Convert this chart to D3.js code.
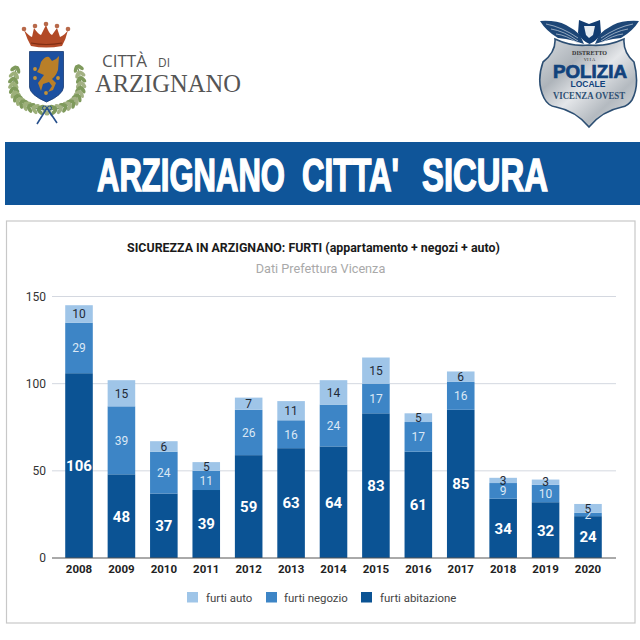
<!DOCTYPE html>
<html>
<head>
<meta charset="utf-8">
<script src="https://cdn.jsdelivr.net/npm/d3@7"></script>
<style>
  html, body { margin: 0; padding: 0; background: #fff; }
  svg { display: block; }
  text { font-family: Roboto, sans-serif; }
</style>
</head>
<body>
<div id="chart"></div>
<script>
const years = ["2008","2009","2010","2011","2012","2013","2014","2015","2016","2017","2018","2019","2020"];
const furtiAbitazione = [106,48,37,39,59,63,64,83,61,85,34,32,24];
const furtiNegozio = [29,39,24,11,26,16,24,17,17,16,9,10,2];
const furtiAuto = [10,15,6,5,7,11,14,15,5,6,3,3,5];
const yTicks = [0,50,100,150];
const seriesNames = ["furti abitazione","furti negozio","furti auto"];
const seriesColors = ["#0b5394","#3d85c6","#9fc5e8"];
const labelColors = ["#ffffff","#dbe8f5","#1f2a36"];
const bannerWords = ["ARZIGNANO","CITTA'","SICURA"];

const svg = d3.select("#chart").append("svg")
    .attr("width", 640)
    .attr("height", 640)
    .attr("viewBox", [0, 0, 640, 640]);

const defs = svg.append("defs");
const silver = defs.append("linearGradient").attr("id", "silver")
    .attr("x1", 0).attr("y1", 0).attr("x2", 1).attr("y2", 1);
[[0,"#d9dde1"],[0.3,"#aeb4ba"],[0.5,"#e4e6e9"],[0.72,"#b4bac0"],[1,"#dfe2e5"]].forEach(s => {
    silver.append("stop").attr("offset", s[0]).attr("stop-color", s[1]);
});

// header band, one text per word so the gaps match
const bannerX = [97, 302, 422];
const bannerW = [188, 97, 126];
svg.append("rect").attr("x", 5).attr("y", 142).attr("width", 635).attr("height", 63).attr("fill", "#0f5599");
svg.append("g").selectAll("text").data(bannerWords).join("text")
    .attr("x", (d, i) => bannerX[i]).attr("y", 190.5)
    .attr("textLength", (d, i) => bannerW[i])
    .attr("lengthAdjust", "spacingAndGlyphs")
    .style("font-family", "'Liberation Sans Narrow', 'Liberation Sans', sans-serif")
    .style("font-weight", 700)
    .style("font-size", "47px")
    .attr("fill", "#fff").attr("stroke", "#fff").attr("stroke-width", 1.6)
    .text(d => d);

// left logo: coat of arms
const crest = svg.append("g");
const leafPos = (p0, c, p1, t) => {
    const u = 1 - t;
    return {
        x: u * u * p0[0] + 2 * u * t * c[0] + t * t * p1[0],
        y: u * u * p0[1] + 2 * u * t * c[1] + t * t * p1[1],
        a: Math.atan2(2 * u * (c[1] - p0[1]) + 2 * t * (p1[1] - c[1]), 2 * u * (c[0] - p0[0]) + 2 * t * (p1[0] - c[0])) * 180 / Math.PI
    };
};
[[[17,66],[3,106],[45,110],"#9db07a"],[[77,65],[92,106],[49,110],"#a3b184"]].forEach(w => {
    crest.append("path")
        .attr("d", `M${w[0]}Q${w[1]} ${w[2]}`)
        .attr("fill", "none").attr("stroke", "#6f8a55").attr("stroke-width", 1);
    d3.range(0, 1, 0.075).forEach((t, i) => {
        const p = leafPos(w[0], w[1], w[2], t);
        [-35, 35].forEach(off => {
            crest.append("ellipse")
                .attr("rx", 4).attr("ry", 1.9)
                .attr("fill", i % 2 ? w[3] : "#7f9a5c")
                .attr("transform", `translate(${p.x},${p.y}) rotate(${p.a + off}) translate(4,0)`);
        });
    });
});
crest.append("path")
    .attr("d", "M24,30 Q29,36 32,37 L34,28 Q38,34 41,35 L46,25 Q49,34 52,35 L57,28 L60,37 Q65,35 68,30 Q66,39 62,46 Q46,49 31,46 Q27,39 24,30 Z")
    .attr("fill", "#b24a27");
crest.append("path").attr("d", "M31,43 Q46,46 62,43").attr("fill", "none").attr("stroke", "#7e2e14").attr("stroke-width", 1.2);
crest.selectAll("circle.ball").data([[24,29],[35,26],[46,24],[57,26],[68,29]]).join("circle")
    .attr("cx", d => d[0]).attr("cy", d => d[1]).attr("r", 2.3).attr("fill", "#b8694a");
crest.append("path")
    .attr("d", "M29.5,51.5 H63.5 V87 Q63,95 46.5,102 Q30,95 29.5,87 Z")
    .attr("fill", "#1c50a0").attr("stroke", "#173a72").attr("stroke-width", 0.8);
crest.append("path")
    .attr("d", "M41,62 Q45,56 49,57 L52,61 Q56,60 59,56 L58,70 Q56,76 52,79 L56,83 L53,90 L48,92 L52,86 L49,82 L43,84 L41,91 L38,83 L44,75 L37,72 Q40,68 41,62 Z")
    .attr("fill", "#b97f28");
crest.selectAll("circle.star").data([[35,69],[35,78],[58,78],[46,93]]).join("circle")
    .attr("cx", d => d[0]).attr("cy", d => d[1]).attr("r", 1.9).attr("fill", "#c59236");
crest.append("path").attr("d", "M37,124 L47,108 L57,123 M47,108 L42,116 M47,108 L52,116")
    .attr("fill", "none").attr("stroke", "#27508c").attr("stroke-width", 1.6);
crest.append("circle").attr("cx", 44.5).attr("cy", 108).attr("r", 2).attr("fill", "none").attr("stroke", "#27508c").attr("stroke-width", 1);
crest.append("circle").attr("cx", 49.5).attr("cy", 108).attr("r", 2).attr("fill", "none").attr("stroke", "#27508c").attr("stroke-width", 1);

svg.append("text").attr("x", 102).attr("y", 67)
    .attr("textLength", 45).attr("lengthAdjust", "spacingAndGlyphs")
    .style("font-family", "'Open Sans', sans-serif").style("font-size", "15.5px").attr("fill", "#555")
    .text("CITTÀ");
svg.append("text").attr("x", 158).attr("y", 67)
    .attr("textLength", 12).attr("lengthAdjust", "spacingAndGlyphs")
    .style("font-family", "'Open Sans', sans-serif").style("font-size", "13.5px").attr("fill", "#555")
    .text("DI");
svg.append("text").attr("x", 95).attr("y", 92)
    .style("font-family", "'Liberation Serif', serif").style("font-size", "25px").attr("fill", "#555")
    .attr("textLength", 146).attr("lengthAdjust", "spacingAndGlyphs")
    .text("ARZIGNANO");

// right logo: police badge
const badge = svg.append("g");
const wing = "M540,21 Q556,20 566,25 Q574,29 580,35 L584,44 Q572,40 566,39 L558,38 Q546,31 540,21 Z";
badge.append("path").attr("d", wing).attr("fill", "#1d4676");
badge.append("path").attr("d", wing).attr("fill", "#1d4676").attr("transform", "translate(1179,0) scale(-1,1)");
["M546,24 Q562,27 578,38", "M551,29 Q564,31 578,41", "M556,34 Q566,35 578,43"].forEach(d => {
    badge.append("path").attr("d", d).attr("fill", "none").attr("stroke", "#c9d3de").attr("stroke-width", 0.7);
    badge.append("path").attr("d", d).attr("fill", "none").attr("stroke", "#c9d3de").attr("stroke-width", 0.7)
        .attr("transform", "translate(1179,0) scale(-1,1)");
});
badge.append("path")
    .attr("d", "M555,39 Q572,47 589,45 Q606,47 624,39 Q623,52 634,62 Q640,85 632,100 Q628,106 622,107 Q602,111 589,127 Q576,111 556,107 Q548,106 544,98 Q536,82 543,62 Q556,52 555,39 Z")
    .attr("fill", "url(#silver)").attr("stroke", "#2d4f73").attr("stroke-width", 1.6);
badge.append("path").attr("d", "M579,20 L589,24 L600,20 L601,33 Q597,41 589.5,44 Q582,41 578,33 Z").attr("fill", "#123c70");
badge.append("path").attr("d", "M584,26 L595,26 L593,35 L589,38 L586,35 Z").attr("fill", "#e8edf2");
badge.append("text").attr("x", 589.5).attr("y", 54.5).attr("text-anchor", "middle")
    .style("font-family", "'Liberation Serif', serif").style("font-weight", 700).style("font-size", "6px").attr("fill", "#333").text("DISTRETTO");
badge.append("text").attr("x", 589.5).attr("y", 60.5).attr("text-anchor", "middle")
    .style("font-family", "'Liberation Serif', serif").style("font-size", "4.5px").attr("fill", "#333").text("VI I A");
badge.append("text").attr("x", 553).attr("y", 77.5)
    .attr("textLength", 74).attr("lengthAdjust", "spacingAndGlyphs")
    .style("font-family", "'Liberation Sans', sans-serif").style("font-weight", 700).style("font-size", "17.5px")
    .attr("fill", "#12427c").attr("stroke", "#12427c").attr("stroke-width", 0.7).text("POLIZIA");
badge.append("text").attr("x", 588).attr("y", 87).attr("text-anchor", "middle")
    .style("font-family", "'Liberation Sans', sans-serif").style("font-weight", 700).style("font-size", "8.5px").attr("fill", "#12427c").text("LOCALE");
badge.append("text").attr("x", 553).attr("y", 99)
    .attr("textLength", 72).attr("lengthAdjust", "spacingAndGlyphs")
    .style("font-family", "'Liberation Serif', serif").style("font-weight", 700).style("font-size", "9.5px").attr("fill", "#2d4f73").text("VICENZA OVEST");

// chart panel
svg.append("rect").attr("x", 6.5).attr("y", 221).attr("width", 628.5).attr("height", 402)
    .attr("fill", "#fff").attr("stroke", "#c8c8c8").attr("stroke-width", 1.2);
svg.append("text").attr("x", 313.5).attr("y", 251.5).attr("text-anchor", "middle")
    .style("font-size", "12.4px").style("font-weight", 700).attr("fill", "#1a1a1a")
    .text("SICUREZZA IN ARZIGNANO: FURTI (appartamento + negozi + auto)");
svg.append("text").attr("x", 320.5).attr("y", 273).attr("text-anchor", "middle")
    .style("font-size", "12.7px").attr("fill", "#a9a9a9")
    .text("Dati Prefettura Vicenza");

const x = d3.scaleBand().domain(years).range([57.8, 609.2]).paddingInner(0.35).paddingOuter(0.175);
const y = d3.scaleLinear().domain([0, 150]).range([558, 296.5]);

svg.append("g").selectAll("line").data(yTicks.filter(d => d > 0)).join("line")
    .attr("x1", 52).attr("x2", 616)
    .attr("y1", d => y(d)).attr("y2", d => y(d))
    .attr("stroke", "#d4d8e0").attr("stroke-width", 1);

const table = years.map((year, i) => ({
    year,
    abitazione: furtiAbitazione[i],
    negozio: furtiNegozio[i],
    auto: furtiAuto[i]
}));
const stacked = d3.stack().keys(["abitazione", "negozio", "auto"])(table);

svg.append("g").selectAll("g").data(stacked).join("g")
    .attr("fill", (d, i) => seriesColors[i])
    .selectAll("rect").data(d => d).join("rect")
    .attr("x", d => x(d.data.year))
    .attr("width", x.bandwidth())
    .attr("y", d => y(d[1]))
    .attr("height", d => y(d[0]) - y(d[1]));

// value labels, bottom segment is larger and bold
stacked.forEach((layer, i) => {
    svg.append("g").selectAll("text").data(layer).join("text")
        .attr("x", d => x(d.data.year) + x.bandwidth() / 2)
        .attr("y", d => (y(d[0]) + y(d[1])) / 2)
        .attr("dy", "0.36em")
        .attr("text-anchor", "middle")
        .attr("fill", labelColors[i])
        .style("font-size", i === 0 ? "15px" : "12px")
        .style("font-weight", i === 0 ? 700 : 400)
        .text(d => d[1] - d[0]);
});

// axes
const xAxis = svg.append("g").attr("transform", "translate(0,558)")
    .call(d3.axisBottom(x).tickSize(0).tickPadding(7));
xAxis.select(".domain").remove();
xAxis.selectAll("text").style("font-family", "Roboto, sans-serif").style("font-size", "11.5px").style("font-weight", 700).attr("fill", "#222");
svg.append("line").attr("x1", 52).attr("x2", 616).attr("y1", 558).attr("y2", 558).attr("stroke", "#555").attr("stroke-width", 1);

const yAxis = svg.append("g").attr("transform", "translate(46,0)")
    .call(d3.axisLeft(y).tickValues(yTicks).tickSize(0).tickPadding(0));
yAxis.select(".domain").remove();
yAxis.selectAll("text").style("font-family", "Roboto, sans-serif").style("font-size", "12px").attr("fill", "#333");

// legend
const legendOrder = [2, 1, 0];
const legendX = [187, 266, 361];
const legendGap = [19, 18, 19];
const legend = svg.append("g").selectAll("g").data(legendOrder).join("g")
    .attr("transform", (d, i) => `translate(${legendX[i]},592)`);
legend.append("rect").attr("width", 11).attr("height", 10.5).attr("fill", d => seriesColors[d]);
legend.append("text").attr("x", (d, i) => legendGap[i]).attr("y", 10)
    .style("font-size", "11.4px").attr("fill", "#444")
    .text(d => seriesNames[d]);
</script>
</body>
</html>
